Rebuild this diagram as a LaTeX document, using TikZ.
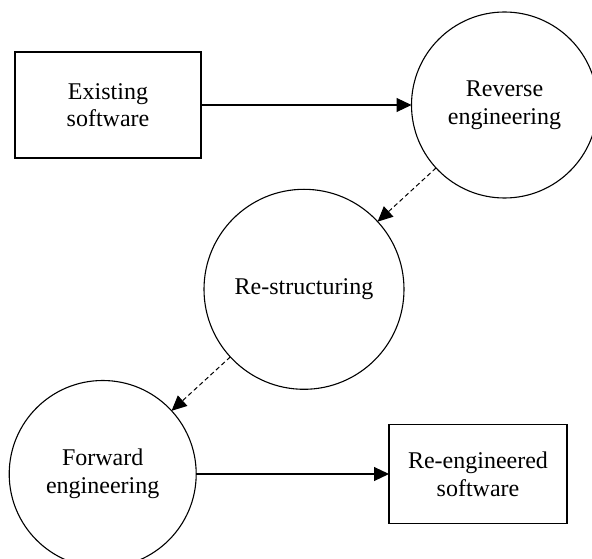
\documentclass[tikz,border=0pt]{standalone}
\usepackage{fontspec}
\setmainfont{Liberation Serif}
\usetikzlibrary{arrows.meta}

\begin{document}
\begin{tikzpicture}[x=1pt,y=-1pt,
  every node/.style={font=\fontsize{24}{27.6}\selectfont, align=center, inner sep=0pt, outer sep=0pt},
  stagebox/.style={draw, line width=1.2pt, rectangle},
  stagecircle/.style={draw, line width=1.1pt, circle},
  flow/.style={line width=1.1pt, -{Triangle[length=15pt,width=14pt]}},
  rework/.style={line width=1pt, dash pattern=on 4.5pt off 3pt, -{Triangle[length=15pt,width=14pt]}}
]
  \useasboundingbox (0,0) rectangle (592,559);

  % process stages
  \node[stagebox, minimum width=186pt, minimum height=106pt] (exist) at (108,105) {Existing\\software};
  \node[stagecircle, minimum size=186pt] (rev) at (504.5,105) {Reverse\\engineering};
  \node[stagecircle, minimum size=200pt] (restr) at (304,289.3) {Re-structuring};
  \node[stagecircle, minimum size=187pt] (fwd) at (102.7,474) {Forward\\engineering};
  \node[stagebox, minimum width=178pt, minimum height=99pt] (reeng) at (478,474) {Re-engineered\\software};

  % transitions
  \draw[flow] (exist) -- (rev);
  \draw[rework] (rev) -- (restr);
  \draw[rework] (restr) -- (fwd);
  \draw[flow] (fwd) -- (reeng);
\end{tikzpicture}
\end{document}
